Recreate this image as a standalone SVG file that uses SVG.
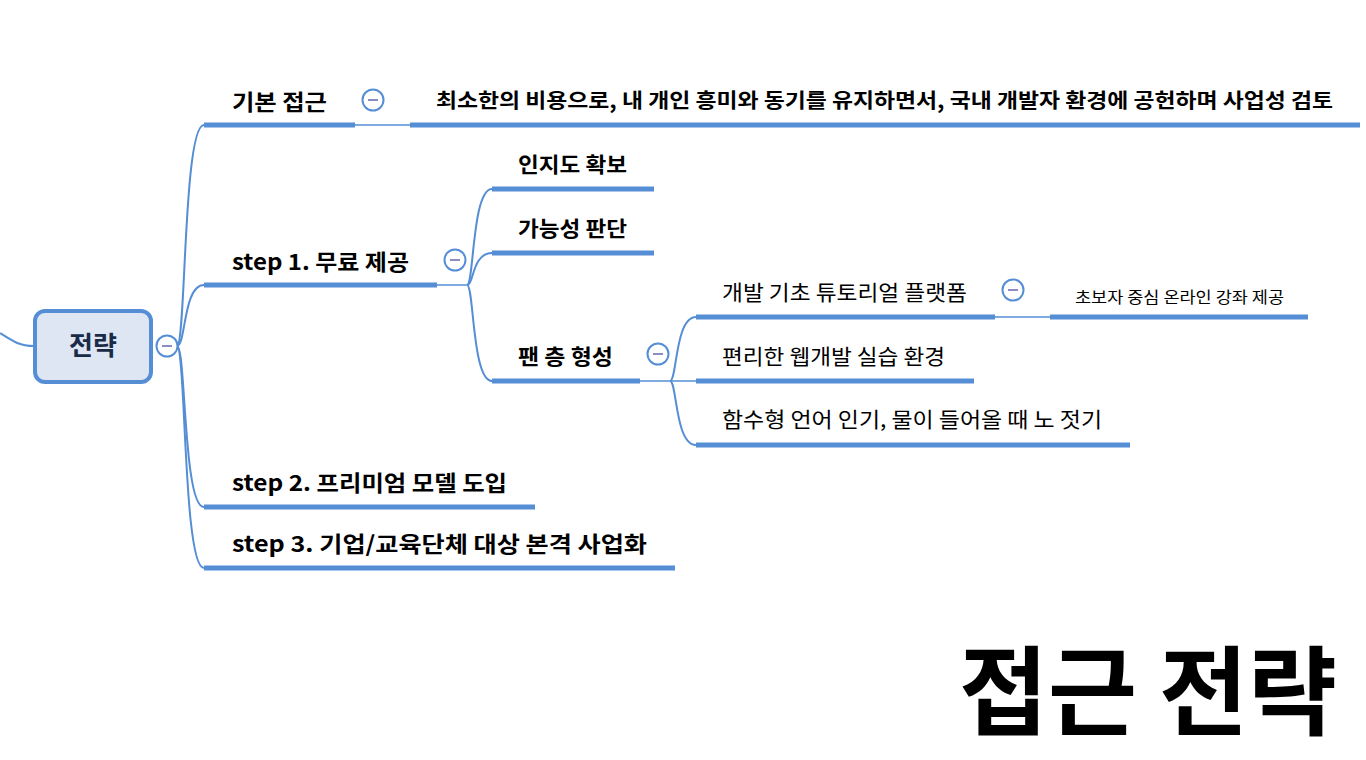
<svg xmlns="http://www.w3.org/2000/svg" width="1366" height="760" viewBox="0 0 1366 760">
<style>
.bg{fill:#ffffff}
.ul{fill:#558ed5}
.ln{fill:none;stroke:#558ed5;stroke-width:2}
.thin{fill:none;stroke:#558ed5;stroke-width:1.5}
.col circle{fill:#ffffff;stroke:#558ed5;stroke-width:2}
.col line{stroke:#8a8cc4;stroke-width:2}
.b{font-family:"Noto Sans CJK KR","Noto Sans",sans-serif;font-weight:700;fill:#000}
.r{font-family:"Noto Sans CJK KR","Noto Sans",sans-serif;font-weight:400;fill:#000}
</style>
<defs>
<g id="minus" class="col"><circle cx="0" cy="0" r="10.5"/><line x1="-5" y1="0" x2="5" y2="0"/></g>
</defs>
<rect class="bg" x="0" y="0" width="1366" height="760"/>

<g id="connectors">
<path class="ln" d="M0,333 C14,342 20,346 34,346"/>
<path class="ln" d="M177,346 C186,346 183,125 204,125"/>
<path class="ln" d="M177,346 C186,346 183,285 204,285"/>
<path class="ln" d="M177,346 C186,346 183,507 204,507"/>
<path class="ln" d="M177,346 C186,346 183,568 204,568"/>
<path class="thin" d="M355,125 L410,125"/>
<path class="thin" d="M437,285 L467,285"/>
<path class="ln" d="M467,285 C474,285 472,189 492,189"/>
<path class="ln" d="M467,285 C474,285 472,253 492,253"/>
<path class="ln" d="M467,285 C474,285 472,381 492,381"/>
<path class="thin" d="M640,381 L696,381"/>
<path class="ln" d="M670,381 C677,381 675,317 696,317"/>
<path class="ln" d="M670,381 C677,381 675,445 696,445"/>
<path class="thin" d="M995,317 L1050,317"/>
</g>

<g id="root">
<rect x="35" y="311" width="116" height="71" rx="10" fill="#dde6f2" stroke="#558ed5" stroke-width="4"/>
<text class="b" x="93" y="355" font-size="26" text-anchor="middle" style="fill:#1a2b48">전략</text>
<use href="#minus" x="167" y="346"/>
</g>

<g id="n-basic">
<text class="b" x="232" y="110" font-size="22" textLength="95" lengthAdjust="spacingAndGlyphs">기본 접근</text>
<rect class="ul" x="204" y="122.5" width="151" height="5"/>
<use href="#minus" x="373" y="100"/>
</g>
<g id="n-basic-detail">
<text class="b" x="436" y="108" font-size="20" textLength="897" lengthAdjust="spacingAndGlyphs">최소한의 비용으로, 내 개인 흥미와 동기를 유지하면서, 국내 개발자 환경에 공헌하며 사업성 검토</text>
<rect class="ul" x="410" y="122.5" width="950" height="5"/>
</g>

<g id="n-step1">
<text class="b" x="232" y="270" font-size="22" textLength="177" lengthAdjust="spacingAndGlyphs">step 1. 무료 제공</text>
<rect class="ul" x="204" y="282.5" width="233" height="5"/>
<use href="#minus" x="455" y="260"/>
</g>
<g id="n-aware">
<text class="b" x="518" y="172" font-size="21" textLength="109" lengthAdjust="spacingAndGlyphs">인지도 확보</text>
<rect class="ul" x="492" y="186.5" width="162" height="5"/>
</g>
<g id="n-feasible">
<text class="b" x="518" y="236" font-size="21" textLength="109" lengthAdjust="spacingAndGlyphs">가능성 판단</text>
<rect class="ul" x="492" y="250.5" width="162" height="5"/>
</g>
<g id="n-fan">
<text class="b" x="518" y="364" font-size="21" textLength="95" lengthAdjust="spacingAndGlyphs">팬 층 형성</text>
<rect class="ul" x="492" y="378.5" width="148" height="5"/>
<use href="#minus" x="658" y="354"/>
</g>
<g id="n-tutorial">
<text class="r" x="722" y="300" font-size="21" textLength="245" lengthAdjust="spacingAndGlyphs">개발 기초 튜토리얼 플랫폼</text>
<rect class="ul" x="696" y="314.5" width="299" height="5"/>
<use href="#minus" x="1013" y="290"/>
</g>
<g id="n-online">
<text class="r" x="1075" y="303" font-size="16" textLength="209" lengthAdjust="spacingAndGlyphs">초보자 중심 온라인 강좌 제공</text>
<rect class="ul" x="1050" y="314.5" width="258" height="5"/>
</g>
<g id="n-webdev">
<text class="r" x="722" y="364" font-size="21" textLength="223" lengthAdjust="spacingAndGlyphs">편리한 웹개발 실습 환경</text>
<rect class="ul" x="696" y="378.5" width="278" height="5"/>
</g>
<g id="n-functional">
<text class="r" x="722" y="427" font-size="21" textLength="380" lengthAdjust="spacingAndGlyphs">함수형 언어 인기, 물이 들어올 때 노 젓기</text>
<rect class="ul" x="696" y="442.5" width="434" height="5"/>
</g>

<g id="n-step2">
<text class="b" x="232" y="491" font-size="22" textLength="275" lengthAdjust="spacingAndGlyphs">step 2. 프리미엄 모델 도입</text>
<rect class="ul" x="204" y="504.5" width="331" height="5"/>
</g>
<g id="n-step3">
<text class="b" x="232" y="552" font-size="22" textLength="415" lengthAdjust="spacingAndGlyphs">step 3. 기업/교육단체 대상 본격 사업화</text>
<rect class="ul" x="204" y="565.5" width="471" height="5"/>
</g>

<g id="title">
<text class="b" x="959" y="727" font-size="97" textLength="378" lengthAdjust="spacingAndGlyphs">접근 전략</text>
</g>
</svg>
